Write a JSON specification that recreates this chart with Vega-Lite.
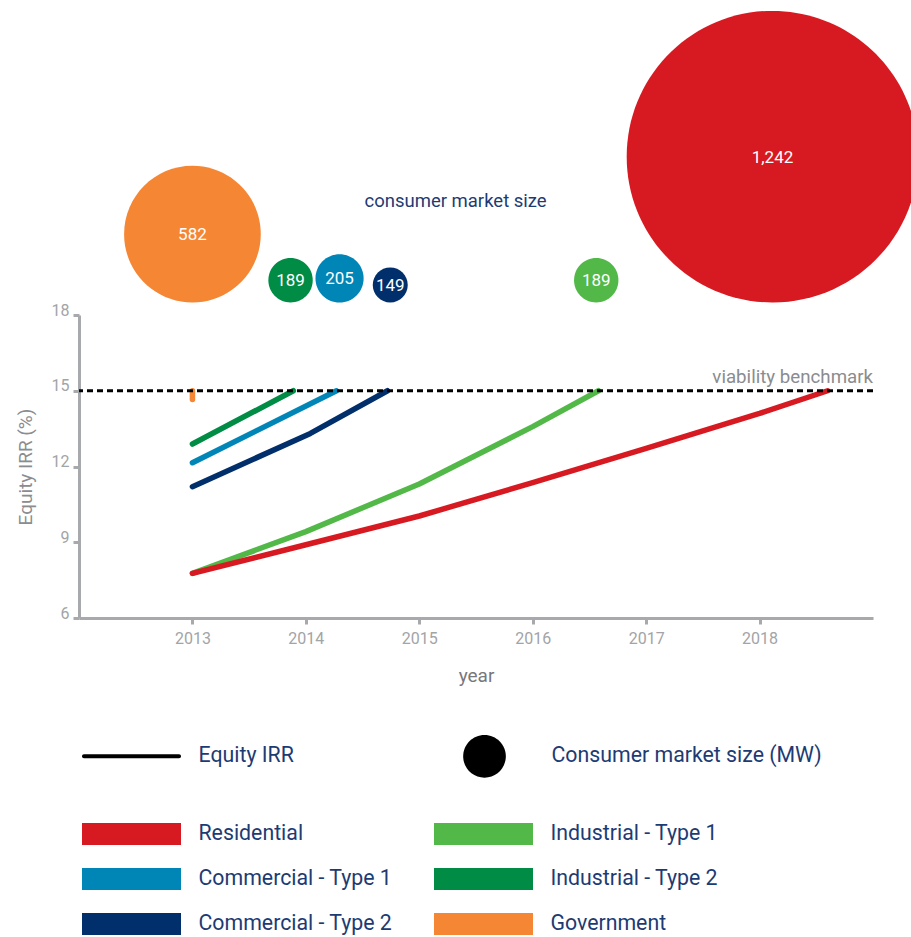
{
  "$schema": "https://vega.github.io/schema/vega-lite/v6.json",
  "width": 794,
  "height": 303,
  "autosize": {"type": "none"},
  "padding": {"left": 79, "top": 315, "right": 38, "bottom": 319},
  "background": "white",
  "config": {"font": "Roboto", "view": {"stroke": null}},
  "datasets": {
    "irr": [
      {"segment": "Government", "year": 2013, "irr": 14.65, "step": 1},
      {"segment": "Government", "year": 2013, "irr": 15, "step": 2},
      {"segment": "Industrial - Type 2", "year": 2013, "irr": 12.89, "step": 1},
      {"segment": "Industrial - Type 2", "year": 2013.89, "irr": 15, "step": 2},
      {"segment": "Commercial - Type 1", "year": 2013, "irr": 12.15, "step": 1},
      {"segment": "Commercial - Type 1", "year": 2014.27, "irr": 15, "step": 2},
      {"segment": "Commercial - Type 2", "year": 2013, "irr": 11.2, "step": 1},
      {"segment": "Commercial - Type 2", "year": 2014.04, "irr": 13.31, "step": 2},
      {"segment": "Commercial - Type 2", "year": 2014.72, "irr": 15, "step": 3},
      {"segment": "Industrial - Type 1", "year": 2013, "irr": 7.77, "step": 1},
      {"segment": "Industrial - Type 1", "year": 2014, "irr": 9.42, "step": 2},
      {"segment": "Industrial - Type 1", "year": 2015, "irr": 11.31, "step": 3},
      {"segment": "Industrial - Type 1", "year": 2016, "irr": 13.58, "step": 4},
      {"segment": "Industrial - Type 1", "year": 2016.58, "irr": 15, "step": 5},
      {"segment": "Residential", "year": 2013, "irr": 7.77, "step": 1},
      {"segment": "Residential", "year": 2014, "irr": 8.9, "step": 2},
      {"segment": "Residential", "year": 2015, "irr": 10.04, "step": 3},
      {"segment": "Residential", "year": 2016, "irr": 11.36, "step": 4},
      {"segment": "Residential", "year": 2017, "irr": 12.72, "step": 5},
      {"segment": "Residential", "year": 2018, "irr": 14.1, "step": 6},
      {"segment": "Residential", "year": 2018.6, "irr": 15, "step": 7}
    ],
    "market": [
      {"segment": "Government", "year": 2013.0, "mw": 582},
      {"segment": "Industrial - Type 2", "year": 2013.865, "mw": 189},
      {"segment": "Commercial - Type 1", "year": 2014.297, "mw": 205},
      {"segment": "Commercial - Type 2", "year": 2014.744, "mw": 149},
      {"segment": "Industrial - Type 1", "year": 2016.56, "mw": 189},
      {"segment": "Residential", "year": 2018.114, "mw": 1242}
    ],
    "benchmark": [{"irr": 15, "label": "viability benchmark"}]
  },
  "layer": [
    {
      "layer": [
        {
          "data": {"name": "irr"},
          "mark": {"type": "line", "strokeWidth": 5.5, "strokeCap": "round", "strokeJoin": "round"},
          "encoding": {
            "x": {
              "field": "year", "type": "quantitative",
              "scale": {"domain": [2012, 2019], "nice": false, "zero": false},
              "axis": {
                "values": [2013, 2014, 2015, 2016, 2017, 2018],
                "format": "d",
                "title": "year",
                "grid": false,
                "domainColor": "#a7a9ac", "domainWidth": 3,
                "tickColor": "#a7a9ac", "tickWidth": 3, "tickSize": 6,
                "labelColor": "#a2a4a7", "labelFontSize": 16, "labelPadding": 6,
                "titleColor": "#77787b", "titleFontSize": 19, "titleFontWeight": "normal", "titlePadding": 20,
                "encode": {"ticks": {"update": {"y": {"value": -7}, "y2": {"value": 6}}}}
              }
            },
            "y": {
              "field": "irr", "type": "quantitative",
              "scale": {"domain": [6, 18], "nice": false, "zero": false},
              "axis": {
                "values": [6, 9, 12, 15, 18],
                "title": "Equity IRR (%)",
                "grid": false,
                "domainColor": "#a7a9ac", "domainWidth": 3,
                "tickColor": "#a7a9ac", "tickWidth": 3, "tickSize": 6,
                "labelColor": "#a2a4a7", "labelFontSize": 16, "labelPadding": 4,
                "labelBaseline": "alphabetic",
                "titleColor": "#8a8c8f", "titleFontSize": 19, "titleFontWeight": "normal", "titlePadding": 16,
                "encode": {"ticks": {"update": {"x": {"value": -6}, "x2": {"value": 6}}}}
              }
            },
            "color": {
              "field": "segment", "type": "nominal",
              "scale": {
                "domain": ["Residential", "Commercial - Type 1", "Commercial - Type 2", "Industrial - Type 1", "Industrial - Type 2", "Government"],
                "range": ["#d71a21", "#0085b7", "#002f6c", "#52b848", "#008c45", "#f58634"]
              },
              "legend": {
                "title": null,
                "orient": "none",
                "legendX": 41.5,
                "legendY": 508,
                "columns": 2,
                "columnPadding": 41,
                "rowPadding": 23,
                "symbolType": "M-4.5,-1H4.5V1H-4.5Z",
                "symbolSize": 484,
                "symbolStrokeWidth": 0,
                "symbolOpacity": 1,
                "labelFont": "Roboto",
                "labelFontSize": 21.3,
                "labelColor": "#1d3b73",
                "labelOffset": 56,
                "labelLimit": 400,
                "encode": {"symbols": {"update": {"fill": {"signal": "scale('color', datum.value)"}, "stroke": {"value": "transparent"}, "opacity": {"value": 1}}}}
              }
            },
            "order": {"field": "step", "type": "quantitative"}
          }
        },
        {
          "data": {"name": "benchmark"},
          "mark": {"type": "rule", "color": "black", "strokeWidth": 3, "strokeDash": [6, 4]},
          "encoding": {"y": {"field": "irr", "type": "quantitative"}}
        },
        {
          "data": {"name": "benchmark"},
          "mark": {"type": "text", "align": "right", "baseline": "alphabetic", "dy": -8, "fontSize": 18.7, "color": "#8a8c8f", "font": "Roboto"},
          "encoding": {"x": {"datum": 2019}, "y": {"field": "irr", "type": "quantitative"}, "text": {"field": "label"}}
        }
      ]
    },
    {
      "data": {"name": "market"},
      "layer": [
        {
          "mark": {"type": "point", "filled": true, "opacity": 1, "strokeWidth": 0},
          "encoding": {
            "x": {"field": "year", "type": "quantitative"},
            "y": {
              "field": "mw", "type": "quantitative",
              "scale": {"domain": [0, 1000], "range": [-12.5, -129.9], "nice": false, "zero": false},
              "axis": null
            },
            "size": {
              "field": "mw", "type": "quantitative",
              "scale": {"type": "pow", "exponent": 2, "domain": [0, 1000], "range": [0, 14648]},
              "legend": null
            },
            "color": {"field": "segment", "type": "nominal"},
            "shape": {
              "datum": "Consumer market size (MW)",
              "scale": {
                "domain": ["Equity IRR", "Consumer market size (MW)"],
                "range": [
                  "M0,-1.94M0,1.94M-4.32,-0.18H4.32A0.18,0.18 0 0 1 4.32,0.18H-4.32A0.18,0.18 0 0 1 -4.32,-0.18Z",
                  "M1.94,0A1.94,1.94 0 1 1 -1.94,0A1.94,1.94 0 1 1 1.94,0Z"
                ]
              },
              "legend": {
                "title": null,
                "orient": "none",
                "legendX": 41.5,
                "legendY": 430,
                "columns": 2,
                "columnPadding": 168,
                "symbolSize": 484,
                "symbolStrokeWidth": 0,
                "labelFont": "Roboto",
                "labelFontSize": 21.3,
                "labelColor": "#1d3b73",
                "labelOffset": 56,
                "labelLimit": 400,
                "encode": {"symbols": {"update": {
                  "fill": {"value": "#000000"},
                  "stroke": {"value": "transparent"},
                  "opacity": {"value": 1}
                }}}
              }
            }
          }
        },
        {
          "mark": {"type": "text", "align": "center", "baseline": "middle", "dy": 1, "fontSize": 17, "color": "white", "font": "Roboto"},
          "encoding": {
            "x": {"field": "year", "type": "quantitative"},
            "y": {"field": "mw", "type": "quantitative"},
            "text": {"field": "mw", "type": "quantitative", "format": ","}
          }
        },
        {
          "data": {"values": [{"year": 2015.32, "mw": 867, "label": "consumer market size"}]},
          "mark": {"type": "text", "align": "center", "baseline": "middle", "fontSize": 18.5, "color": "#1d3b73", "font": "Roboto"},
          "encoding": {
            "x": {"field": "year", "type": "quantitative"},
            "y": {"field": "mw", "type": "quantitative"},
            "text": {"field": "label"}
          }
        }
      ]
    }
  ],
  "resolve": {"scale": {"y": "independent"}}
}
